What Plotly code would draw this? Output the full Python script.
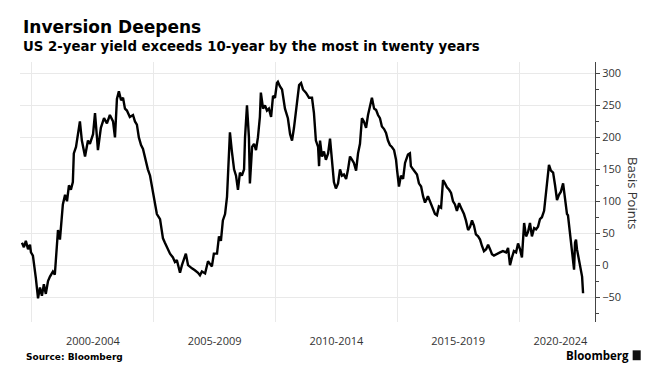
import plotly.graph_objects as go

# Decimal year and 10y-2y spread (basis points)
years = [
    1999.59, 1999.67, 1999.75, 1999.84, 1999.92, 1999.96, 2000.04, 2000.12, 2000.16, 2000.25,
    2000.33, 2000.41, 2000.49, 2000.57, 2000.66, 2000.74, 2000.86, 2000.94, 2000.99, 2001.07,
    2001.15, 2001.19, 2001.27, 2001.36, 2001.44, 2001.52, 2001.60, 2001.68, 2001.72, 2001.81,
    2001.89, 2001.97, 2002.05, 2002.18, 2002.30, 2002.38, 2002.51, 2002.59, 2002.67, 2002.71,
    2002.83, 2002.96, 2003.08, 2003.20, 2003.33, 2003.41, 2003.49, 2003.57, 2003.66, 2003.74,
    2003.82, 2003.90, 2004.02, 2004.15, 2004.23, 2004.31, 2004.39, 2004.48, 2004.56, 2004.64,
    2004.76, 2004.85, 2004.93, 2005.05, 2005.13, 2005.26, 2005.38, 2005.46, 2005.54, 2005.67,
    2005.79, 2005.87, 2005.95, 2006.08, 2006.16, 2006.24, 2006.32, 2006.41, 2006.49, 2006.57,
    2006.69, 2006.82, 2006.90, 2006.98, 2007.11, 2007.23, 2007.31, 2007.39, 2007.47, 2007.60,
    2007.68, 2007.76, 2007.84, 2007.93, 2008.01, 2008.09, 2008.13, 2008.21, 2008.30, 2008.38,
    2008.46, 2008.54, 2008.62, 2008.71, 2008.75, 2008.83, 2008.91, 2008.95, 2009.04, 2009.12,
    2009.20, 2009.28, 2009.36, 2009.40, 2009.49, 2009.57, 2009.65, 2009.73, 2009.82, 2009.90,
    2009.98, 2010.06, 2010.10, 2010.18, 2010.27, 2010.39, 2010.51, 2010.60, 2010.68, 2010.76,
    2010.84, 2010.97, 2011.05, 2011.13, 2011.25, 2011.38, 2011.50, 2011.58, 2011.66, 2011.75,
    2011.79, 2011.83, 2011.91, 2011.99, 2012.07, 2012.16, 2012.24, 2012.32, 2012.40, 2012.48,
    2012.57, 2012.65, 2012.73, 2012.81, 2012.90, 2012.98, 2013.06, 2013.14, 2013.22, 2013.31,
    2013.39, 2013.47, 2013.55, 2013.63, 2013.72, 2013.80, 2013.88, 2013.96, 2014.05, 2014.13,
    2014.21, 2014.29, 2014.37, 2014.46, 2014.54, 2014.62, 2014.70, 2014.78, 2014.87, 2014.95,
    2014.99, 2015.07, 2015.15, 2015.24, 2015.32, 2015.44, 2015.52, 2015.56, 2015.65, 2015.73,
    2015.81, 2015.89, 2015.98, 2016.06, 2016.14, 2016.26, 2016.35, 2016.47, 2016.55, 2016.63,
    2016.71, 2016.80, 2016.88, 2016.96, 2017.04, 2017.13, 2017.21, 2017.29, 2017.37, 2017.45,
    2017.54, 2017.62, 2017.74, 2017.82, 2017.91, 2017.99, 2018.07, 2018.15, 2018.23, 2018.32,
    2018.40, 2018.48, 2018.56, 2018.65, 2018.73, 2018.81, 2018.89, 2018.97, 2019.10, 2019.22,
    2019.34, 2019.47, 2019.55, 2019.63, 2019.71, 2019.79, 2019.88, 2019.96, 2020.04, 2020.12,
    2020.21, 2020.29, 2020.37, 2020.45, 2020.53, 2020.62, 2020.70, 2020.78, 2020.86, 2020.94,
    2021.03, 2021.11, 2021.19, 2021.23, 2021.31, 2021.40, 2021.48, 2021.56, 2021.64, 2021.72,
    2021.81, 2021.89, 2021.97, 2022.01, 2022.09, 2022.18, 2022.26, 2022.30, 2022.34, 2022.38,
    2022.46, 2022.55, 2022.59, 2022.63,
]
spread_bp = [
    35, 28, 38, 25, 32, 20, 15, -15, -20, -52,
    -35, -48, -30, -45, -25, -18, -10, -15, 20, 55,
    40, 60, 95, 110, 100, 125, 118, 130, 175, 185,
    205, 225, 195, 170, 195, 190, 205, 238, 200, 180,
    215, 230, 222, 235, 225, 200, 260, 272, 258, 262,
    245, 242, 232, 235, 225, 220, 200, 188, 182, 168,
    150, 140, 122, 97, 80, 72, 42, 35, 28, 18,
    12, 5, 8, -12, 0, 10, 18, 0, -3, -5,
    -8, -12, -16, -10, -13, 6, 2, -2, 18, 18,
    45, 38, 70, 80, 107, 180, 208, 178, 150, 140,
    118, 145, 140, 150, 200, 250, 200, 128, 185, 190,
    180, 200, 232, 270, 245, 250, 242, 245, 232, 265,
    262, 285, 287, 280, 275, 245, 230, 205, 195, 215,
    240, 282, 285, 275, 270, 262, 262, 238, 195, 185,
    155, 195, 170, 178, 165, 175, 198, 165, 130, 120,
    128, 150, 140, 142, 135, 150, 170, 165, 160, 148,
    175, 190, 230, 225, 215, 235, 250, 262, 245, 243,
    235, 230, 217, 213, 207, 195, 188, 185, 180, 165,
    150, 123, 140, 135, 160, 173, 175, 155, 150, 145,
    142, 128, 123, 108, 98, 108, 100, 87, 80, 78,
    92, 90, 133, 128, 122, 118, 113, 100, 95, 85,
    97, 90, 80, 70, 55, 60, 70, 62, 48, 45,
    40, 30, 22, 25, 32, 25, 17, 15, 18, 20,
    22, 20, 27, 0, 12, 22, 20, 34, 25, 12,
    66, 45, 52, 66, 45, 58, 56, 60, 72, 75,
    85, 110, 140, 157, 148, 145, 125, 102, 110, 115,
    128, 105, 80, 78, 50, 20, -7, 35, 40, 25,
    8, -10, -18, -44,
]

period_pos = [2002.5, 2007.5, 2012.5, 2017.5, 2021.7]
period_labels = ["2000-2004", "2005-2009", "2010-2014", "2015-2019", "2020-2024"]
year_bounds = [2000, 2005, 2010, 2015, 2020]
y_ticks = [-50, 0, 50, 100, 150, 200, 250, 300]

FONT = "Open Sans, DejaVu Sans, sans-serif"
GRID = "#e9e9e9"

fig = go.Figure()
fig.add_trace(go.Scatter(
    x=years, y=spread_bp, mode="lines",
    line=dict(color="#000000", width=2.4),
    hoverinfo="skip", showlegend=False,
))

fig.update_layout(
    width=660, height=385,
    margin=dict(l=12, r=73, t=54, b=71),
    paper_bgcolor="white", plot_bgcolor="white",
    font=dict(family=FONT, size=11, color="#333333"),
    showlegend=False,
    xaxis=dict(
        range=[1999.51, 2023.12],
        tickmode="array", tickvals=period_pos, ticktext=period_labels,
        showgrid=False, zeroline=False, showline=False,
        ticks="", ticklen=0, ticklabelstandoff=11,
        tickfont=dict(family=FONT, size=11, color="#333333"),
        minor=dict(tickmode="array", tickvals=year_bounds, showgrid=True,
                   gridcolor=GRID, gridwidth=1, ticks=""),
    ),
    yaxis=dict(
        side="right", range=[-89, 318],
        tickmode="array", tickvals=y_ticks,
        showgrid=True, gridcolor=GRID, gridwidth=1,
        zeroline=False, showline=True, linecolor="#444444", linewidth=1,
        ticks="outside", ticklen=4, tickcolor="#444444", tickwidth=1,
        tickfont=dict(family=FONT, size=11, color="#333333"),
        minor=dict(dtick=25, tick0=0, ticks="outside", ticklen=3,
                   tickcolor="#444444", showgrid=False),
    ),
)

fig.add_annotation(text="<b>Inversion Deepens</b>", xref="paper", yref="paper",
                   x=0.0, y=1.135, xanchor="left", yanchor="middle", showarrow=False,
                   xshift=1, font=dict(family="DejaVu Sans", size=17, color="#000000"))
fig.add_annotation(text="<b>US 2-year yield exceeds 10-year by the most in twenty years</b>",
                   xref="paper", yref="paper", x=0.0, y=1.0615, xanchor="left",
                   yanchor="middle", showarrow=False, xshift=1,
                   font=dict(family="DejaVu Sans", size=13.3, color="#000000"))
fig.add_annotation(text="Basis Points", xref="paper", yref="paper", x=1.066, y=0.496,
                   xanchor="center", yanchor="middle", textangle=90, showarrow=False,
                   font=dict(family=FONT, size=13, color="#333333"))
fig.add_annotation(text="<b>Source: Bloomberg</b>", xref="paper", yref="paper",
                   x=0.0, y=-0.135, xanchor="left", yanchor="middle", showarrow=False,
                   xshift=4, font=dict(family="DejaVu Sans", size=9, color="#000000"))
fig.add_annotation(text="<b>Bloomberg</b>", xref="paper", yref="paper",
                   x=1.063, y=-0.127, xanchor="right", yanchor="middle", showarrow=False,
                   font=dict(family="Open Sans", size=11.5, color="#000000"))
fig.add_shape(type="rect", xref="paper", yref="paper",
              x0=1.0655, x1=1.0795, y0=-0.147, y1=-0.109,
              fillcolor="#111111", line=dict(width=0))

fig.write_html("out.html")
